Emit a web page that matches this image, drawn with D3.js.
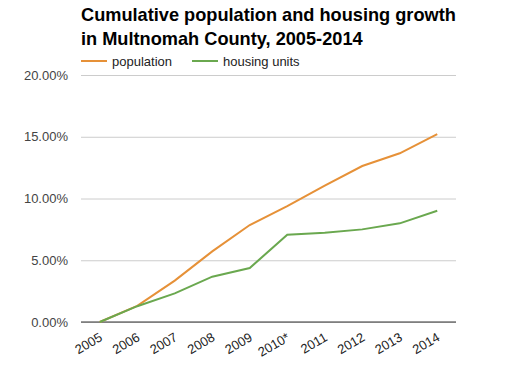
<!DOCTYPE html>
<html>
<head>
<meta charset="utf-8">
<script src="https://cdn.jsdelivr.net/npm/d3@7"></script>
<style>
  body { margin: 0; background: #fff; }
  text { font-family: "Liberation Sans", Arial, sans-serif; }
</style>
</head>
<body>
<div id="chart"></div>
<script>
// data (cumulative % growth since 2005)
var years = ["2005", "2006", "2007", "2008", "2009", "2010*", "2011", "2012", "2013", "2014"];
var population = [0, 1.3, 3.35, 5.72, 7.85, 9.39, 11.04, 12.63, 13.66, 15.22];
var housing = [0, 1.28, 2.32, 3.67, 4.37, 7.07, 7.23, 7.5, 7.99, 9.01];
var yTicks = [0, 5, 10, 15, 20];

var svgWidth = 507, svgHeight = 382;
var margin = {top: 75, right: 51, bottom: 60, left: 81};
var width = svgWidth - margin.left - margin.right;
var height = 322 - margin.top;

var svg = d3.select("#chart").append("svg")
  .attr("width", svgWidth)
  .attr("height", svgHeight);

// title
svg.append("text").attr("x", 81).attr("y", 21)
  .attr("font-size", 18.2).attr("font-weight", "bold").attr("fill", "#000")
  .text("Cumulative population and housing growth");
svg.append("text").attr("x", 81).attr("y", 45)
  .attr("font-size", 18.2).attr("font-weight", "bold").attr("fill", "#000")
  .text("in Multnomah County, 2005-2014");

var g = svg.append("g").attr("transform", `translate(${margin.left},${margin.top})`);

var x = d3.scalePoint().domain(years).range([0, width]).padding(0.5);
var y = d3.scaleLinear().domain([0, 20]).range([height, 0]);

// gridlines + y labels
var yAxis = d3.axisLeft(y).tickValues(yTicks).tickSize(-width)
  .tickFormat(d => d.toFixed(2) + "%");
g.append("g").call(yAxis)
  .call(s => s.select(".domain").remove())
  .call(s => s.selectAll(".tick line").attr("stroke", "#ccc"))
  .call(s => s.selectAll(".tick text").attr("x", -13).attr("fill", "#444")
    .attr("font-size", 13).attr("font-family", "Liberation Sans, Arial, sans-serif"));

// baseline
g.append("line").attr("x1", 0).attr("x2", width)
  .attr("y1", y(0)).attr("y2", y(0)).attr("stroke", "#333");

// x labels
var xAxis = d3.axisBottom(x).tickSize(0);
g.append("g").attr("transform", `translate(0,${height})`).call(xAxis)
  .call(s => s.select(".domain").remove())
  .call(s => s.selectAll(".tick text")
    .attr("font-size", 13).attr("fill", "#222")
    .attr("font-family", "Liberation Sans, Arial, sans-serif")
    .attr("text-anchor", "end")
    .attr("dy", null).attr("y", 0)
    .attr("transform", "translate(3,18) rotate(-30)"));

var line = d3.line().x((d, i) => x(years[i])).y(d => y(d));

g.append("path").datum(population).attr("d", line)
  .attr("fill", "none").attr("stroke", "#e69138").attr("stroke-width", 2);
g.append("path").datum(housing).attr("d", line)
  .attr("fill", "none").attr("stroke", "#6aa84f").attr("stroke-width", 2);

// legend
var legend = [["population", "#e69138", 81], ["housing units", "#6aa84f", 192]];
legend.forEach(function(l) {
  svg.append("line").attr("x1", l[2]).attr("x2", l[2] + 26)
    .attr("y1", 61).attr("y2", 61).attr("stroke", l[1]).attr("stroke-width", 2);
  svg.append("text").attr("x", l[2] + 31).attr("y", 66)
    .attr("font-size", 13).attr("fill", "#222").text(l[0]);
});
</script>
</body>
</html>
